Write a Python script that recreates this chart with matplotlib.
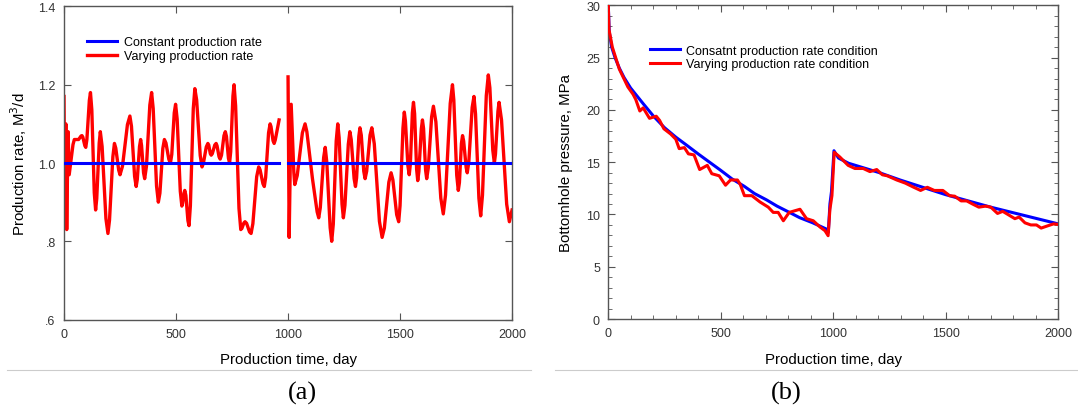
import matplotlib
matplotlib.use("Agg")
from matplotlib import pyplot as plt
from matplotlib.ticker import MultipleLocator, FixedLocator, FixedFormatter
from matplotlib.lines import Line2D

# ---- panel (a): production rate ----
const_days_1 = [0, 960]
const_days_2 = [1000, 2000]
const_rate = [1.0, 1.0]

# first half of the varying rate (peaks + shoulders)
vary_days_1 = [0, 3, 8, 12, 18, 23, 40, 46, 65, 76, 80, 84, 93, 97, 102, 113,
               118, 124, 135, 141, 146, 157, 162, 170, 187, 196, 203, 218, 225,
               231, 244, 250, 261, 283, 294, 301, 315, 322, 327, 337, 342, 346,
               355, 360, 368, 383, 391, 398, 413, 421, 428, 441, 448, 455, 468,
               475, 481, 492, 498, 505, 519, 526, 529, 536, 539, 544, 553, 558,
               564, 577, 584, 592, 608, 616, 622, 635, 642, 646, 653, 657, 662,
               673, 679, 683, 692, 697, 703, 714, 720, 725, 734, 739, 744, 754,
               759, 766, 781, 789, 794, 803, 808, 815, 828, 835, 843, 860, 869,
               875, 888, 894, 900, 913, 920, 924, 933, 938, 943, 960]
vary_rate_1 = [1.17, 0.90, 1.10, 0.83, 1.08, 0.97, 1.047, 1.06, 1.06, 1.069,
               1.07, 1.066, 1.044, 1.04, 1.06, 1.16, 1.18, 1.136, 0.924, 0.88,
               0.909, 1.051, 1.08, 1.042, 0.858, 0.82, 0.854, 1.016, 1.05,
               1.038, 0.982, 0.97, 0.992, 1.098, 1.12, 1.094, 0.966, 0.94,
               0.958, 1.042, 1.06, 1.045, 0.975, 0.96, 0.992, 1.148, 1.18,
               1.139, 0.941, 0.90, 0.923, 1.037, 1.06, 1.051, 1.009, 1.00,
               1.022, 1.128, 1.15, 1.112, 0.928, 0.89, 0.896, 0.924, 0.93,
               0.917, 0.853, 0.84, 0.891, 1.139, 1.19, 1.161, 1.019, 0.99,
               0.999, 1.041, 1.05, 1.046, 1.024, 1.02, 1.024, 1.046, 1.05,
               1.044, 1.016, 1.01, 1.02, 1.07, 1.08, 1.068, 1.012, 1.00, 1.029,
               1.171, 1.20, 1.146, 0.884, 0.83, 0.833, 0.847, 0.85, 0.846,
               0.824, 0.82, 0.845, 0.965, 0.99, 0.983, 0.947, 0.94, 0.963,
               1.077, 1.10, 1.093, 1.057, 1.05, 1.059, 1.11]

# second half of the varying rate
vary_days_2 = [1000, 1005, 1014, 1026, 1030, 1041, 1064, 1076, 1084, 1109, 1130,
               1137, 1144, 1159, 1166, 1173, 1188, 1195, 1202, 1215, 1222, 1228,
               1241, 1247, 1254, 1269, 1276, 1282, 1295, 1301, 1306, 1316, 1321,
               1327, 1338, 1344, 1351, 1366, 1374, 1385, 1408, 1420, 1430, 1450,
               1460, 1468, 1485, 1494, 1500, 1513, 1519, 1524, 1535, 1541, 1546,
               1555, 1560, 1565, 1574, 1579, 1584, 1595, 1600, 1605, 1614, 1619,
               1626, 1641, 1649, 1660, 1682, 1693, 1703, 1724, 1734, 1740, 1753,
               1760, 1765, 1774, 1779, 1784, 1795, 1800, 1807, 1822, 1830, 1837,
               1852, 1860, 1868, 1885, 1894, 1901, 1914, 1921, 1926, 1937, 1942,
               1953, 1976, 1988, 2000]
vary_rate_2 = [1.22, 0.81, 1.15, 0.975, 0.945, 0.968, 1.077, 1.10, 1.08, 0.96,
               0.875, 0.86, 0.886, 1.014, 1.04, 1.002, 0.835, 0.80, 0.844,
               1.056, 1.10, 1.065, 0.895, 0.86, 0.892, 1.048, 1.08, 1.06, 0.96,
               0.94, 0.962, 1.068, 1.09, 1.071, 0.979, 0.96, 0.979, 1.071, 1.09,
               1.049, 0.851, 0.81, 0.834, 0.951, 0.975, 0.957, 0.868, 0.85,
               0.891, 1.089, 1.13, 1.107, 0.993, 0.97, 0.997, 1.128, 1.155,
               1.126, 0.984, 0.955, 0.978, 1.087, 1.11, 1.088, 0.982, 0.96,
               0.987, 1.118, 1.145, 1.105, 0.91, 0.87, 0.918, 1.152, 1.20,
               1.161, 0.969, 0.93, 0.95, 1.05, 1.07, 1.056, 0.989, 0.975, 1.003,
               1.142, 1.17, 1.125, 0.91, 0.865, 0.918, 1.172, 1.225, 1.192,
               1.033, 1.0, 1.023, 1.132, 1.155, 1.11, 0.895, 0.85, 0.88]

# ---- panel (b): bottomhole pressure ----
bhp_days_const = [0, 4, 15, 30, 49, 70, 99, 155, 201, 250, 300, 350, 399, 450,
                  501, 550, 604, 650, 703, 750, 805, 850, 909, 970, 978, 985,
                  992, 1003, 1023, 1068, 1205, 1297, 1499, 1700, 2000]
bhp_const = [30.0, 27.5, 26.0, 25.0, 24.0, 23.1, 22.1, 20.6, 19.4, 18.3, 17.4,
             16.6, 15.8, 15.0, 14.2, 13.4, 12.7, 12.0, 11.4, 10.8, 10.2, 9.7,
             9.2, 8.6, 8.3, 11.0, 12.2, 16.1, 15.4, 14.9, 14.0, 13.3, 11.9,
             10.7, 9.1]

bhp_days_vary = [0, 3, 18, 49, 87, 110, 122, 140, 155, 183, 213, 228, 247, 277,
                 300, 315, 338, 356, 381, 406, 440, 460, 493, 521, 543, 574, 586,
                 605, 638, 674, 711, 733, 755, 778, 804, 852, 881, 911, 941, 963,
                 977, 985, 994, 1004, 1029, 1066, 1096, 1133, 1163, 1193, 1218,
                 1240, 1282, 1320, 1358, 1388, 1418, 1449, 1487, 1517, 1540, 1568,
                 1593, 1619, 1647, 1677, 1700, 1730, 1753, 1784, 1807, 1826, 1852,
                 1878, 1903, 1924, 1951, 1979, 2000]
bhp_vary = [30.0, 27.7, 26.0, 23.9, 22.2, 21.5, 21.0, 19.9, 20.2, 19.2, 19.4,
            19.0, 18.2, 17.7, 17.2, 16.3, 16.4, 15.8, 15.7, 14.3, 14.7, 13.9,
            13.7, 12.8, 13.3, 13.3, 12.9, 11.8, 11.8, 11.2, 10.7, 10.2, 10.2,
            9.4, 10.2, 10.5, 9.6, 9.4, 8.8, 8.45, 7.97, 10.5, 11.8, 15.95, 15.5,
            14.7, 14.4, 14.4, 14.1, 14.3, 13.8, 13.7, 13.3, 13.0, 12.6, 12.3,
            12.6, 12.3, 12.3, 11.8, 11.75, 11.3, 11.3, 11.0, 10.7, 10.8, 10.7,
            10.1, 10.3, 9.9, 9.6, 9.75, 9.2, 9.0, 9.0, 8.7, 8.9, 9.1, 9.05]

plt.rcParams['font.family'] = ['Liberation Sans', 'DejaVu Sans']

BLUE = '#0000ff'
RED = '#ff0000'
TICK_COLOR = '#333333'
LABEL_SIZE = 10.8

fig = plt.figure(figsize=(10.78, 4.14), dpi=100)
ax_a = fig.add_axes([0.0594, 0.2256, 0.4156, 0.7565])
ax_b = fig.add_axes([0.5643, 0.2270, 0.4174, 0.7575])

# panel (a)
ax_a.plot(vary_days_1, vary_rate_1, color=RED, linewidth=2.4, zorder=2,
          solid_joinstyle='round')
ax_a.plot(vary_days_2, vary_rate_2, color=RED, linewidth=2.4, zorder=2,
          solid_joinstyle='round')
ax_a.plot(const_days_1, const_rate, color=BLUE, linewidth=2.2, zorder=3)
ax_a.plot(const_days_2, const_rate, color=BLUE, linewidth=2.2, zorder=3)
ax_a.set_xlim(0, 2000)
ax_a.set_ylim(0.6, 1.4)
ax_a.xaxis.set_major_locator(MultipleLocator(500))
ax_a.yaxis.set_major_locator(FixedLocator([0.6, 0.8, 1.0, 1.2, 1.4]))
ax_a.yaxis.set_major_formatter(FixedFormatter(['.6', '.8', '1.0', '1.2', '1.4']))
ax_a.set_xlabel('Production time, day', fontsize=LABEL_SIZE, labelpad=9)
ax_a.set_ylabel('Production rate, M$^3$/d', fontsize=LABEL_SIZE, labelpad=7)
handles_a = [Line2D([], [], color=BLUE, linewidth=2.2),
             Line2D([], [], color=RED, linewidth=2.4)]
ax_a.legend(handles_a, ['Constant production rate', 'Varying production rate'],
            loc='upper left', bbox_to_anchor=(0.052, 0.905), frameon=False,
            fontsize=9, handlelength=2.4, handletextpad=0.5, labelspacing=0.15,
            borderpad=0, borderaxespad=0)

# panel (b)
ax_b.plot(bhp_days_const, bhp_const, color=BLUE, linewidth=2.2, zorder=2,
          label='Consatnt production rate condition')
ax_b.plot(bhp_days_vary, bhp_vary, color=RED, linewidth=2.2, zorder=3,
          solid_joinstyle='round', label='Varying production rate condition')
ax_b.set_xlim(0, 2000)
ax_b.set_ylim(0, 30)
ax_b.xaxis.set_major_locator(MultipleLocator(500))
ax_b.xaxis.set_minor_locator(MultipleLocator(100))
ax_b.yaxis.set_major_locator(MultipleLocator(5))
ax_b.yaxis.set_minor_locator(MultipleLocator(1))
ax_b.set_xlabel('Production time, day', fontsize=LABEL_SIZE, labelpad=9)
ax_b.set_ylabel('Bottomhole pressure, MPa', fontsize=LABEL_SIZE, labelpad=9)
ax_b.legend(loc='upper left', bbox_to_anchor=(0.092, 0.875), frameon=False,
            fontsize=9, handlelength=2.4, handletextpad=0.5, labelspacing=0.15,
            borderpad=0, borderaxespad=0)

for ax in (ax_a, ax_b):
    ax.tick_params(which='both', direction='in', top=True, right=True,
                   colors='#555555', labelcolor=TICK_COLOR, labelsize=9)
    ax.tick_params(which='major', length=5, pad=6)
    ax.tick_params(which='minor', length=3)
    for sp in ax.spines.values():
        sp.set_color('#555555')
        sp.set_linewidth(1.0)

# separator lines and captions
fig.add_artist(Line2D([7 / 1078, 531 / 1078], [1 - 371 / 414] * 2,
                      color='#cccccc', linewidth=0.8))
fig.add_artist(Line2D([555 / 1078, 1.0], [1 - 371 / 414] * 2,
                      color='#cccccc', linewidth=0.8))
fig.text(302 / 1078, 1 - 393 / 414, '(a)', ha='center', va='center',
         fontsize=19, family='Liberation Serif')
fig.text(786 / 1078, 1 - 393 / 414, '(b)', ha='center', va='center',
         fontsize=19, family='Liberation Serif')

fig.savefig('out.png', dpi=100)
